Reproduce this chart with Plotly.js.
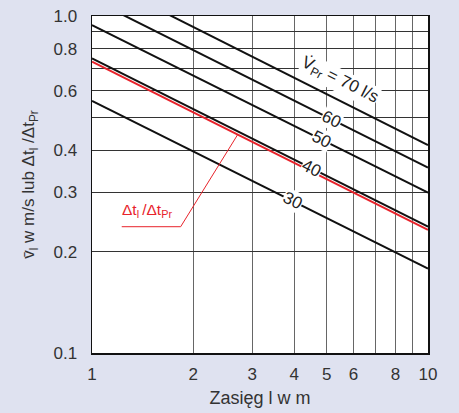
<!DOCTYPE html>
<html>
<head>
<meta charset="utf-8">
<script src="https://cdn.plot.ly/plotly-3.0.1.min.js"></script>
<style>html,body{margin:0;padding:0;background:#dfe2f0;}#chart{width:459px;height:413px;}</style>
</head>
<body>
<div id="chart"></div>
<script>
// Range l in m (x endpoints of each line)
const rangeL = [1, 10];
// Flow rate series labels (l/s)
const flowRates = [30, 40, 50, 60, 70];
// Velocity v_l (m/s) read at l = 1 and l = 10 for each flow rate
const v30 = [0.56, 0.178];
const v40 = [0.749, 0.237];
const v50 = [0.94, 0.299];
const v60 = [1.12, 0.355];
const v70 = [1.314, 0.414];
// Temperature ratio Δt_l/Δt_Pr
const dtRatio = [0.732, 0.232];
// Tick labels
const xTickVals = [1, 2, 3, 4, 5, 6, 7, 8, 9, 10];
const xTickText = ['1', '2', '3', '4', '5', '6', '', '8', '', '10'];
const yTickVals = [0.1, 0.2, 0.3, 0.4, 0.5, 0.6, 0.7, 0.8, 0.9, 1.0];
const yTickText = ['0.1', '0.2', '0.3', '0.4', '', '0.6', '', '0.8', '', '1.0'];

const blackSeries = [v30, v40, v50, v60, v70];
const FONT = 'Liberation Sans, Arial, Helvetica, sans-serif';
const RED = '#e8232b';
const X_RANGE = [0, 1], Y_RANGE = [-1, 0];

const traces = blackSeries.map((ys, i) => ({
  x: rangeL, y: ys, type: 'scatter', mode: 'lines',
  line: {color: '#111', width: 2}, name: flowRates[i] + ' l/s', hoverinfo: 'skip'
}));
traces.push({x: rangeL, y: dtRatio, type: 'scatter', mode: 'lines',
  line: {color: RED, width: 2}, name: 'Δt', hoverinfo: 'skip'});

// log10 value on a straight log-log line at position l
function onLine(ys, l) {
  const a = Math.log10(ys[0]), b = Math.log10(ys[1]);
  const t = (Math.log10(l) - Math.log10(rangeL[0])) / (Math.log10(rangeL[1]) - Math.log10(rangeL[0]));
  return a + (b - a) * t;
}
const fx = v => (Math.log10(v) - X_RANGE[0]) / (X_RANGE[1] - X_RANGE[0]);
const fyLog = lv => (lv - Y_RANGE[0]) / (Y_RANGE[1] - Y_RANGE[0]);

const ANG = 26.6;
function lineLabel(text, ys, l) {
  return {x: Math.log10(l), y: onLine(ys, l), xref: 'x', yref: 'y', text: text,
    showarrow: false, textangle: ANG, bgcolor: '#ffffff', borderpad: 0,
    font: {family: FONT, size: 17, color: '#222'}};
}
const annotations = [
  lineLabel('60', v60, 5.17),
  lineLabel('50', v50, 4.83),
  lineLabel('40', v40, 4.51),
  lineLabel('30', v30, 3.95),
  {x: Math.log10(5.47), y: Math.log10(0.642), xref: 'x', yref: 'y',
   text: 'V\u0307<sub>Pr</sub> = 70 l/s', showarrow: false, textangle: ANG,
   bgcolor: '#ffffff', borderpad: 0, font: {family: FONT, size: 17, color: '#222'}},
  {x: Math.log10(1.46), y: Math.log10(0.2656), xref: 'x', yref: 'y',
   text: 'Δt<sub>l</sub>\u2009/Δt<sub>Pr</sub>', showarrow: false, bgcolor: '#ffffff', borderpad: 1,
   font: {family: FONT, size: 15.5, color: RED}}
];
const lx0 = 1.226, lx1 = 1.836, ly = 0.237, lx2 = 2.714;
const shapes = [
  {type: 'line', xref: 'paper', yref: 'paper', x0: fx(lx0), x1: fx(lx1),
   y0: fyLog(Math.log10(ly)), y1: fyLog(Math.log10(ly)), line: {color: RED, width: 1}},
  {type: 'line', xref: 'paper', yref: 'paper', x0: fx(lx1), x1: fx(lx2),
   y0: fyLog(Math.log10(ly)), y1: fyLog(onLine(dtRatio, lx2)), line: {color: RED, width: 1}}
];

const layout = {
  width: 459, height: 413,
  margin: {l: 92, r: 31, t: 16, b: 60},
  paper_bgcolor: '#dfe2f0', plot_bgcolor: '#ffffff',
  showlegend: false,
  font: {family: FONT, size: 17, color: '#333'},
  xaxis: {type: 'log', range: X_RANGE, tickvals: xTickVals, ticktext: xTickText,
    showgrid: true, gridcolor: '#666', gridwidth: 1, zeroline: false,
    showline: true, mirror: true, linecolor: '#111', linewidth: 1.5,
    ticks: '', ticklabelstandoff: 5, tickfont: {size: 17, color: '#333'},
    title: {text: 'Zasięg l w m', font: {size: 18, color: '#333'}, standoff: 8}},
  yaxis: {type: 'log', range: Y_RANGE, tickvals: yTickVals, ticktext: yTickText,
    showgrid: true, gridcolor: '#333', gridwidth: 1, zeroline: false,
    showline: true, mirror: true, linecolor: '#111', linewidth: 1.5,
    ticks: '', ticklabelstandoff: 10, tickfont: {size: 17, color: '#333'},
    title: {text: 'v\u0304<sub>l</sub> w m/s lub Δt<sub>l</sub> /Δt<sub>Pr</sub>',
      font: {size: 17, color: '#333'}, standoff: 14}},
  annotations: annotations,
  shapes: shapes
};
Plotly.newPlot('chart', traces, layout, {staticPlot: true, displayModeBar: false});
</script>
</body>
</html>
